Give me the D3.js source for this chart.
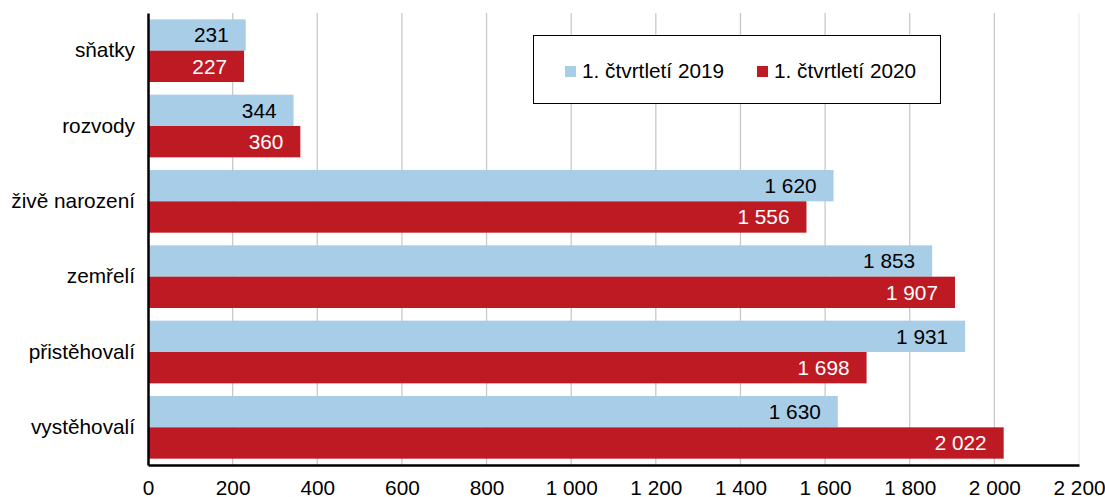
<!DOCTYPE html>
<html><head><meta charset="utf-8">
<script src="https://cdn.jsdelivr.net/npm/d3@7"></script>
<style>body{margin:0;background:#fff}svg{display:block;font-family:"Liberation Sans",Arial,sans-serif}</style>
</head><body><svg id="c" width="1105" height="497"></svg>
<script>
const categories = ["sňatky","rozvody","živě narození","zemřelí","přistěhovalí","vystěhovalí"];
const series = ["1. čtvrtletí 2019","1. čtvrtletí 2020"];
const values2019 = [231,344,1620,1853,1931,1630];
const values2020 = [227,360,1556,1907,1698,2022];
const xTicks = [0,200,400,600,800,1000,1200,1400,1600,1800,2000,2200];
const colors = ["#a7cde7","#be1a23"];
const labelColors = ["#000","#fff"];
const FS = 20.8;

const svg = d3.select("#c");
const x = d3.scaleLinear().domain([0,2200]).range([148,1079]);
const y = d3.scaleBand().domain(categories).range([13,465]).paddingInner(0.168).paddingOuter(0.084);
const ys = d3.scaleBand().domain(series).range([0,y.bandwidth()]);
const fmt = v => d3.format(",")(v).replace(/,/g," ");

// gridlines
svg.append("g").selectAll("line").data(xTicks.filter(d=>d>0)).join("line")
  .attr("x1",d=>x(d)).attr("x2",d=>x(d)).attr("y1",13).attr("y2",465)
  .attr("stroke",d=>d===2200?"#eeeeee":"#c9c9c9").attr("stroke-width",1.3);

const data = [];
categories.forEach((c,i)=>{
  data.push({c,s:series[0],v:values2019[i],k:0});
  data.push({c,s:series[1],v:values2020[i],k:1});
});
const g = svg.append("g");
g.selectAll("rect").data(data).join("rect")
  .attr("x",x(0)).attr("y",d=>y(d.c)+ys(d.s))
  .attr("width",d=>x(d.v)-x(0)).attr("height",ys.bandwidth())
  .attr("fill",d=>colors[d.k]);
g.selectAll("text").data(data).join("text")
  .attr("x",d=>x(d.v)-17).attr("y",d=>y(d.c)+ys(d.s)+ys.bandwidth()/2)
  .attr("dy","0.35em").attr("text-anchor","end").attr("font-size",FS)
  .attr("fill",d=>labelColors[d.k]).text(d=>fmt(d.v));

// axes
const xa = svg.append("g").attr("transform","translate(0,465)")
  .call(d3.axisBottom(x).tickValues(xTicks).tickFormat(fmt).tickSize(0).tickPadding(15));
xa.select(".domain").attr("stroke","#000").attr("stroke-width",2.5);
xa.selectAll("text").attr("font-size",FS).attr("font-family","Liberation Sans, Arial, sans-serif").attr("fill","#000");

const ya = svg.append("g").attr("transform","translate(148,0)")
  .call(d3.axisLeft(y).tickSize(0).tickPadding(13));
ya.select(".domain").attr("stroke","#000").attr("stroke-width",2.5);
ya.selectAll("text").attr("font-size",FS).attr("font-family","Liberation Sans, Arial, sans-serif").attr("fill","#000");

// legend
const lg = svg.append("g");
lg.append("rect").attr("x",533.5).attr("y",35.5).attr("width",407).attr("height",68)
  .attr("fill","#fff").attr("stroke","#000").attr("stroke-width",1);
const lx = [565,757];
series.forEach((s,i)=>{
  lg.append("rect").attr("x",lx[i]).attr("y",66).attr("width",11).attr("height",11).attr("fill",colors[i]);
  lg.append("text").attr("x",lx[i]+17).attr("y",77.5).attr("font-size",FS).attr("fill","#000").text(s);
});
</script></body></html>
